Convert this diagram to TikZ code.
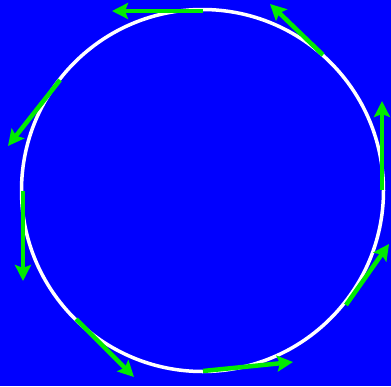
\documentclass[tikz,border=0pt]{standalone}
\usepackage{tikz}
\usetikzlibrary{arrows.meta}
\definecolor{bgblue}{RGB}{0,0,255}
\definecolor{velgreen}{RGB}{0,235,0}

\begin{document}
\begin{tikzpicture}[x=1pt,y=-1pt,
    vel/.style={-{Stealth[length=16pt,width=16pt,inset=3pt]},line width=4.5pt,color=velgreen}]
    \fill[bgblue] (0,0) rectangle (391,386);
    \useasboundingbox (0,0) rectangle (391,386);
    \node[circle,draw=white,line width=3.5pt,minimum size=362pt,inner sep=0pt] (ring) at (202.5,190.5) {};
    % start points on the ring and tips of the velocity arrows
    \coordinate (s1) at (382,190);  \coordinate (t1) at (382,101);
    \coordinate (s2) at (323,55);   \coordinate (t2) at (270,4);
    \coordinate (s3) at (203,11);   \coordinate (t3) at (112,11);
    \coordinate (s4) at (60,80);    \coordinate (t4) at (8,146);
    \coordinate (s5) at (23,191);   \coordinate (t5) at (23,281);
    \coordinate (s6) at (76,319);   \coordinate (t6) at (134,377);
    \coordinate (s7) at (203,371);  \coordinate (t7) at (293,362);
    \coordinate (s8) at (346,305);  \coordinate (t8) at (389,244);
    \draw[vel] (s1) -- (t1);
    \draw[vel] (s2) -- (t2);
    \draw[vel] (s3) -- (t3);
    \draw[vel] (s4) -- (t4);
    \draw[vel] (s5) -- (t5);
    \draw[vel] (s6) -- (t6);
    \draw[vel] (s7) -- (t7);
    \draw[vel] (s8) -- (t8);
\end{tikzpicture}
\end{document}
